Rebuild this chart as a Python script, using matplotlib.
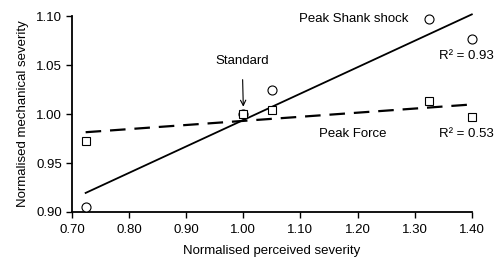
import numpy as np
import matplotlib.pyplot as plt

plt.rcParams['font.family'] = ['Liberation Sans', 'DejaVu Sans']

# Normalised perceived severity (x) for each condition
perceived = [0.724, 1.00, 1.05, 1.325, 1.40]
# Normalised mechanical severity
shank_shock = [0.905, 1.00, 1.025, 1.097, 1.077]
peak_force = [0.972, 1.00, 1.004, 1.013, 0.997]

x_ticks = [0.70, 0.80, 0.90, 1.00, 1.10, 1.20, 1.30, 1.40]
y_ticks = [0.90, 0.95, 1.00, 1.05, 1.10]


def fit_line(x, y):
    x = np.asarray(x)
    y = np.asarray(y)
    slope, icpt = np.polyfit(x, y, 1)
    xs = np.array([x.min(), x.max()])
    return xs, slope * xs + icpt


fig = plt.figure(figsize=(5.03, 2.64), dpi=100)
ax = fig.add_axes([0.143, 0.197, 0.795, 0.742])

# regression lines
xs, ys = fit_line(perceived, shank_shock)
ax.plot(xs, ys, color='black', lw=1.3, zorder=2, clip_on=False)
xs, ys = fit_line(perceived, peak_force)
ax.plot(xs, ys, color='black', lw=1.6, dashes=(7, 4), zorder=2, clip_on=False)

# data points
ax.plot(perceived, shank_shock, 'o', ms=6.5, mfc='white', mec='black', mew=0.8,
        zorder=3, clip_on=False)
ax.plot(perceived, peak_force, 's', ms=6, mfc='white', mec='black', mew=0.8,
        zorder=3, clip_on=False)

# labels on the plot
fs = 9.5
ax.text(1.097, 1.097, 'Peak Shank shock', fontsize=fs, va='center', ha='left')
ax.text(1.342, 1.059, 'R² = 0.93', fontsize=fs, va='center', ha='left')
ax.text(1.132, 0.9796, 'Peak Force', fontsize=fs, va='center', ha='left')
ax.text(1.342, 0.9796, 'R² = 0.53', fontsize=fs, va='center', ha='left')
ax.annotate('Standard', xy=(1.0, 1.0075), xytext=(0.998, 1.054),
            fontsize=fs, ha='center', va='center',
            arrowprops=dict(arrowstyle='->', color='black', lw=0.8,
                            shrinkA=7, shrinkB=0))

ax.set_xlim(0.70, 1.40)
ax.set_ylim(0.90, 1.10)
ax.set_xticks(x_ticks)
ax.set_yticks(y_ticks)
ax.set_xticklabels(['%.2f' % v for v in x_ticks])
ax.set_yticklabels(['%.2f' % v for v in y_ticks])
ax.tick_params(labelsize=fs, length=4, width=1, direction='out')
ax.tick_params(axis='x', pad=5)
ax.tick_params(axis='y', pad=3)

ax.spines['top'].set_visible(False)
ax.spines['right'].set_visible(False)
ax.spines['left'].set_linewidth(1.3)
ax.spines['bottom'].set_linewidth(1.3)

ax.set_xlabel('Normalised perceived severity', fontsize=fs, labelpad=6)
ax.set_ylabel('Normalised mechanical severity', fontsize=fs, labelpad=5)

fig.savefig('out.png', dpi=100)
